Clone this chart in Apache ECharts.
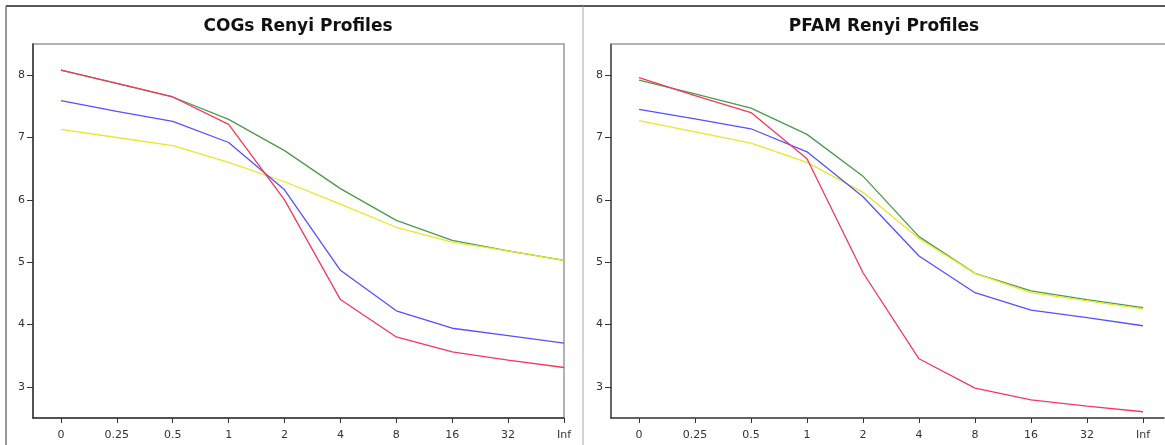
<!DOCTYPE html>
<html>
<head>
<meta charset="utf-8">
<script src="https://cdn.jsdelivr.net/npm/echarts@6/dist/echarts.min.js"></script>
<style>
  html, body { margin: 0; padding: 0; background: #fff; }
  #chart { width: 1165px; height: 445px; }
</style>
</head>
<body>
<div id="chart"></div>
<script>
// Renyi diversity profile: order parameter on the x axis
const orders = ['0', '0.25', '0.5', '1', '2', '4', '8', '16', '32', 'Inf'];
const yTicks = [3, 4, 5, 6, 7, 8];

// COGs profiles
const cogsRed    = [8.08, 7.87, 7.65, 7.21, 6.00, 4.40, 3.80, 3.56, 3.43, 3.31];
const cogsGreen  = [8.08, 7.87, 7.65, 7.29, 6.79, 6.18, 5.67, 5.35, 5.18, 5.03];
const cogsBlue   = [7.59, 7.42, 7.26, 6.92, 6.16, 4.87, 4.22, 3.94, 3.82, 3.70];
const cogsYellow = [7.13, 7.00, 6.87, 6.60, 6.29, 5.93, 5.56, 5.32, 5.18, 5.03];

// PFAM profiles
const pfamRed    = [7.96, 7.67, 7.40, 6.66, 4.83, 3.45, 2.98, 2.79, 2.69, 2.60];
const pfamGreen  = [7.92, 7.70, 7.47, 7.05, 6.38, 5.41, 4.82, 4.54, 4.40, 4.27];
const pfamBlue   = [7.45, 7.30, 7.14, 6.77, 6.05, 5.10, 4.51, 4.23, 4.11, 3.98];
const pfamYellow = [7.27, 7.09, 6.91, 6.60, 6.12, 5.38, 4.82, 4.51, 4.38, 4.25];

const colors = { red: '#f4385c', green: '#4d9a4d', blue: '#5252ff', yellow: '#e8e828' };

const toPoints = arr => arr.map((v, i) => [i, v]);
const orderIdx = orders.map((_, i) => i);

function xAxis(gridIndex, max) {
  return {
    type: 'value', gridIndex, min: -0.5, max,
    axisLine: { show: true, onZero: false, lineStyle: { color: '#333', width: 1.5 } },
    axisTick: { show: true, customValues: orderIdx, length: 5, lineStyle: { color: '#333' } },
    axisLabel: {
      customValues: orderIdx, color: '#333', fontFamily: 'DejaVu Sans', fontSize: 11, margin: 12,
      formatter: v => orders[Math.round(v)]
    },
    splitLine: { show: false }
  };
}
function yAxis(gridIndex) {
  return {
    type: 'value', gridIndex, min: 2.5, max: 8.5,
    axisLine: { show: true, onZero: false, lineStyle: { color: '#333', width: 1.5 } },
    axisTick: { show: true, customValues: yTicks, length: 6, lineStyle: { color: '#333' } },
    axisLabel: { customValues: yTicks, color: '#333', fontFamily: 'DejaVu Sans', fontSize: 11, margin: 8 },
    splitLine: { show: false }
  };
}
function line(idx, data, color) {
  return {
    type: 'line', xAxisIndex: idx, yAxisIndex: idx, data: toPoints(data),
    symbol: 'none', smooth: false, silent: true,
    lineStyle: { color, width: 1.3 }
  };
}

const titleStyle = { fontFamily: 'DejaVu Sans', fontWeight: 'bold', fontSize: 17, color: '#111' };

const chart = echarts.init(document.getElementById('chart'), null, { renderer: 'canvas' });
chart.setOption({
  backgroundColor: '#fff',
  animation: false,
  title: [
    { text: 'COGs Renyi Profiles', left: 293, top: 13, textAlign: 'center', textStyle: titleStyle },
    { text: 'PFAM Renyi Profiles', left: 879, top: 13, textAlign: 'center', textStyle: titleStyle }
  ],
  grid: [
    { left: 33, top: 44, width: 531, height: 374, show: true, borderColor: '#999', borderWidth: 1.5, backgroundColor: '#fff' },
    // right panel box runs past the page edge: only its top edge is drawn (see graphic)
    { left: 611, top: 44, width: 553, height: 374, show: false }
  ],
  xAxis: [xAxis(0, 9), xAxis(1, 9.375)],
  yAxis: [yAxis(0), yAxis(1)],
  series: [
    line(0, cogsGreen, colors.green),
    line(0, cogsYellow, colors.yellow),
    line(0, cogsBlue, colors.blue),
    line(0, cogsRed, colors.red),
    line(1, pfamGreen, colors.green),
    line(1, pfamYellow, colors.yellow),
    line(1, pfamBlue, colors.blue),
    line(1, pfamRed, colors.red)
  ],
  graphic: [
    // outer frame and panel divider
    { type: 'line', shape: { x1: 6, y1: 6, x2: 1165, y2: 6 }, style: { stroke: '#222', lineWidth: 1.5 }, z: 100 },
    { type: 'line', shape: { x1: 6, y1: 6, x2: 6, y2: 445 }, style: { stroke: '#555', lineWidth: 1.2 }, z: 100 },
    { type: 'line', shape: { x1: 583, y1: 6, x2: 583, y2: 445 }, style: { stroke: '#aaa', lineWidth: 1 }, z: 100 },
    // top edge of the right panel box
    { type: 'line', shape: { x1: 611, y1: 44, x2: 1165, y2: 44 }, style: { stroke: '#999', lineWidth: 1.5 }, z: 100 }
  ]
});
</script>
</body>
</html>
